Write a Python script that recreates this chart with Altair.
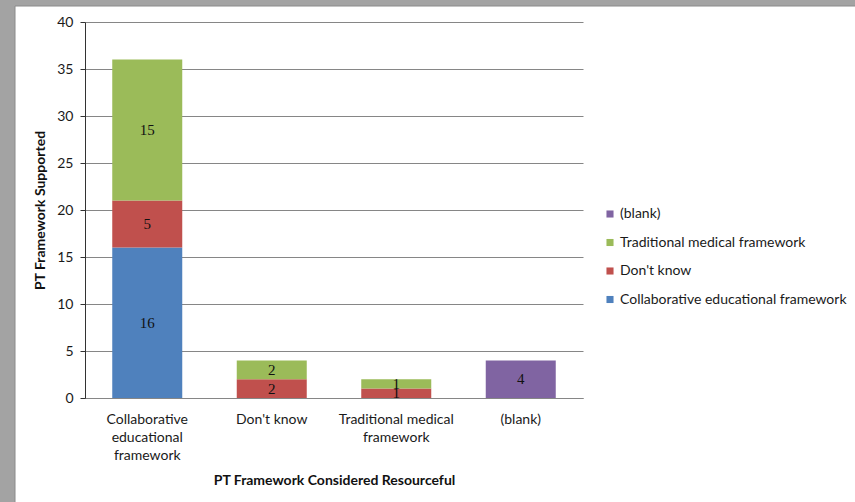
import altair as alt
import pandas as pd

categories = ["Collaborative educational framework", "Don't know",
              "Traditional medical framework", "(blank)"]
series = ["Collaborative educational framework", "Don't know",
          "Traditional medical framework", "(blank)"]
colors = ["#4F81BD", "#C0504D", "#9BBB59", "#8064A2"]
# values[series][category]
values = {
    "Collaborative educational framework": [16, 0, 0, 0],
    "Don't know": [5, 2, 1, 0],
    "Traditional medical framework": [15, 2, 1, 0],
    "(blank)": [0, 0, 0, 4],
}
y_ticks = [0, 5, 10, 15, 20, 25, 30, 35, 40]

rows = []
for si, s in enumerate(series):
    for ci, c in enumerate(categories):
        v = values[s][ci]
        if v > 0:
            rows.append({"cat": c, "series": s, "value": v, "order": si})
df = pd.DataFrame(rows)

FONT = "Lato"
label_expr = ("datum.value == 'Collaborative educational framework' ? "
              "['Collaborative','educational','framework'] : "
              "datum.value == 'Traditional medical framework' ? "
              "['Traditional medical','framework'] : datum.value")

one = alt.Data(values=[{"a": 1}])
strip_left = alt.Chart(one).mark_rect(color="#a3a3a3").encode(
    x=alt.value(-90), x2=alt.value(-70), y=alt.value(-30), y2=alt.value(520)
)
strip_top = alt.Chart(one).mark_rect(color="#a3a3a3").encode(
    x=alt.value(-90), x2=alt.value(800), y=alt.value(-30), y2=alt.value(-16)
)
edge = alt.Chart(one).mark_rect(fill=None, stroke="#8a8a8a", strokeWidth=1,
                                opacity=1).encode(
    x=alt.value(-70), x2=alt.value(800), y=alt.value(-16), y2=alt.value(520)
)

base = alt.Chart(df).transform_stack(
    stack="value", groupby=["cat"], as_=["y0", "y1"],
    sort=[alt.SortField("order", "ascending")]
)

x_enc = alt.X("cat:N", sort=categories,
              scale=alt.Scale(paddingInner=0.44, paddingOuter=0.22),
              axis=alt.Axis(title="PT Framework Considered Resourceful",
                            labelExpr=label_expr, labelAngle=0,
                            labelFont=FONT, labelFontSize=14,
                            labelColor="#1a1a1a", labelLineHeight=18,
                            labelPadding=14, ticks=False,
                            domainColor="#868686",
                            titleFont=FONT, titleFontSize=14,
                            titleFontWeight="bold", titleColor="#111",
                            titlePadding=11))

bars = base.mark_bar(size=70).encode(
    x=x_enc,
    y=alt.Y("y0:Q", scale=alt.Scale(domain=[0, 40], nice=False),
            axis=alt.Axis(title="PT Framework Supported", values=y_ticks,
                          labelFont=FONT, labelFontSize=14,
                          labelColor="#1a1a1a", labelPadding=7,
                          tickColor="#333", tickSize=5,
                          domainColor="#333", gridColor="#868686",
                          titleFont=FONT, titleFontSize=14,
                          titleFontWeight="bold", titleColor="#111",
                          titlePadding=9)),
    y2="y1:Q",
    color=alt.Color("series:N",
                    scale=alt.Scale(domain=series, range=colors),
                    legend=alt.Legend(title=None, values=series[::-1],
                                      orient="none", legendX=518, legendY=185,
                                      symbolType="square", symbolSize=50,
                                      symbolStrokeWidth=0, labelLimit=400,
                                      labelFont=FONT, labelFontSize=14,
                                      labelColor="#1a1a1a", rowPadding=14.5,
                                      labelOffset=3)),
)

labels = base.transform_calculate(
    mid="(datum.y0 + datum.y1) / 2"
).mark_text(font="Liberation Serif", fontSize=15, color="#111",
            baseline="middle").encode(
    x=alt.X("cat:N", sort=categories),
    y="mid:Q",
    text="value:Q",
)

chart = alt.layer(bars, labels, strip_left, strip_top, edge).properties(
    width=498, height=376,
    autosize=alt.AutoSizeParams(type="none"),
    padding={"left": 85, "top": 22, "right": 272, "bottom": 104},
    background="white",
).configure_view(stroke=None)

chart.save("out.html", embed_options={"renderer": "svg", "actions": False})
